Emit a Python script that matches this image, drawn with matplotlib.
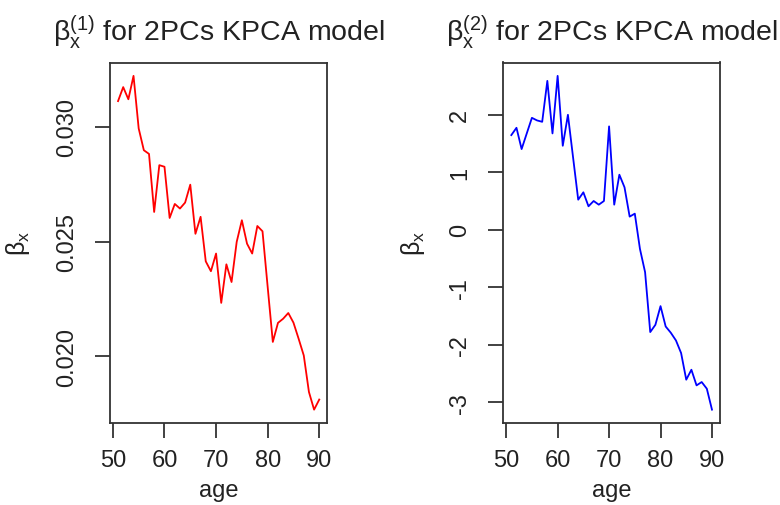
import matplotlib
matplotlib.use("Agg")
import matplotlib.pyplot as plt
from matplotlib.ticker import FixedLocator, FormatStrFormatter

plt.rcParams['font.family'] = ['Liberation Sans', 'DejaVu Sans']
plt.rcParams['mathtext.fontset'] = 'custom'
plt.rcParams['mathtext.rm'] = 'Liberation Sans'
plt.rcParams['mathtext.it'] = 'Liberation Sans'
plt.rcParams['mathtext.bf'] = 'Liberation Sans:bold'
plt.rcParams['axes.unicode_minus'] = False

ages = list(range(51, 91))
beta1 = [0.03112, 0.03173, 0.03120, 0.03222, 0.02993, 0.02898, 0.02882, 0.02629,
         0.02833, 0.02826, 0.02603, 0.02664, 0.02644, 0.02670, 0.02748, 0.02534,
         0.02608, 0.02414, 0.02371, 0.02448, 0.02233, 0.02401, 0.02324, 0.02499,
         0.02593, 0.02491, 0.02448, 0.02568, 0.02545, 0.02303, 0.02063, 0.02146,
         0.02164, 0.02189, 0.02147, 0.02077, 0.02004, 0.01845, 0.01768, 0.01812]
beta2 = [1.644, 1.771, 1.401, 1.673, 1.944, 1.899, 1.875, 2.587, 1.673, 2.674,
         1.458, 1.997, 1.257, 0.521, 0.649, 0.406, 0.498, 0.434, 0.498, 1.795,
         0.434, 0.955, 0.736, 0.226, 0.278, -0.335, -0.740, -1.781, -1.655, -1.330,
         -1.684, -1.793, -1.927, -2.146, -2.609, -2.436, -2.708, -2.650, -2.766, -3.130]

xticks = [50, 60, 70, 80, 90]
yticks1 = [0.020, 0.025, 0.030]
yticks2 = [-3, -2, -1, 0, 1, 2]
titles = [r'$\mathrm{\beta}_x^{(1)}$ for 2PCs KPCA model',
          r'$\mathrm{\beta}_x^{(2)}$ for 2PCs KPCA model']
ylabel = r'$\mathrm{\beta}_x$'
xlabel = 'age'

W, H = 780, 506
fig = plt.figure(figsize=(W / 100, H / 100), dpi=100)

def px_axes(x0, x1, y0, y1):
    return fig.add_axes([x0 / W, 1 - y1 / H, (x1 - x0) / W, (y1 - y0) / H])

ax1 = px_axes(110, 327.3, 63.5, 424)
ax2 = px_axes(503.3, 720, 63.5, 424)

series = [(ax1, beta1, '#FF0000', yticks1, '%.3f', -0.36),
          (ax2, beta2, '#0000FF', yticks2, '%d', -0.35)]

for i, (ax, vals, col, yt, fmt, ylx) in enumerate(series):
    ax.plot(ages, vals, color=col, linewidth=1.3)
    ax.margins(x=0.04, y=0.04)
    ax.xaxis.set_major_locator(FixedLocator(xticks))
    ax.yaxis.set_major_locator(FixedLocator(yt))
    ax.yaxis.set_major_formatter(FormatStrFormatter(fmt))
    for s in ax.spines.values():
        s.set_color('#333333')
        s.set_linewidth(1.3)
    ax.tick_params(axis='both', length=10.5, width=1.3, color='#333333',
                   labelsize=17, labelcolor='#222222')
    ax.tick_params(axis='x', pad=8.5)
    ax.tick_params(axis='y', pad=12.5, labelrotation=90)
    for lab in ax.get_yticklabels():
        lab.set_va('center')
    ax.set_xlabel(xlabel, fontsize=17, color='#222222')
    ax.xaxis.set_label_coords(0.5, -0.155)
    ax.set_ylabel(ylabel, fontsize=18, color='#222222')
    ax.yaxis.set_label_coords(ylx, 0.5)
    ax.text(0.5, (424 - 41.7) / 360.5, titles[i], transform=ax.transAxes,
            ha='center', va='baseline', fontsize=20.5, color='#222222')

fig.savefig('out.png', dpi=100)
